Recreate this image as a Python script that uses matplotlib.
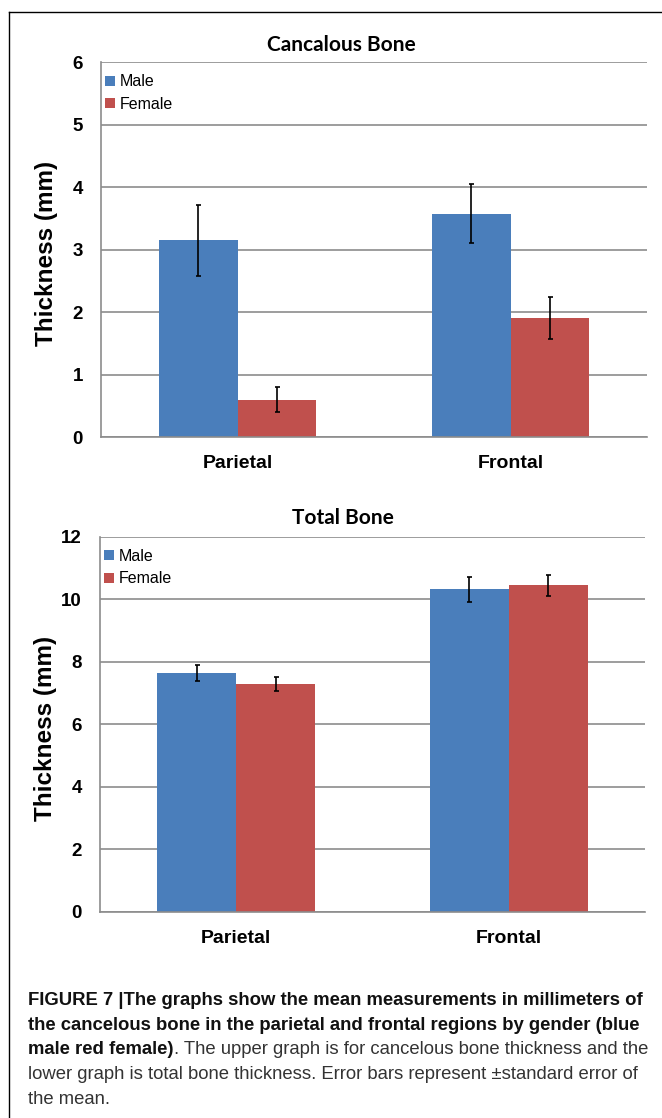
import matplotlib
matplotlib.use("Agg")
import matplotlib.pyplot as plt
from matplotlib import font_manager
from matplotlib.lines import Line2D
import numpy as np

# ---------------- data ----------------
categories = ["Parietal", "Frontal"]
series_names = ["Male", "Female"]
series_colors = ["#4A7EBB", "#C0504D"]

cancellous_male = [3.15, 3.58]
cancellous_female = [0.60, 1.91]
cancellous_male_err = [0.57, 0.47]
cancellous_female_err = [0.20, 0.34]
cancellous_ticks = [0, 1, 2, 3, 4, 5, 6]

total_male = [7.64, 10.32]
total_female = [7.29, 10.44]
total_male_err = [0.26, 0.40]
total_female_err = [0.23, 0.33]
total_ticks = [0, 2, 4, 6, 8, 10, 12]

caption_lines = [
    [("FIGURE 7 |The graphs show the mean measurements in millimeters of", "bold")],
    [("the cancelous bone in the parietal and frontal regions by gender (blue", "bold")],
    [("male red female)", "bold"),
     (". The upper graph is for cancelous bone thickness and the", "normal")],
    [("lower graph is total bone thickness. Error bars represent \u00b1standard error of", "normal")],
    [("the mean.", "normal")],
]

# ---------------- fonts ----------------
available = {f.name for f in font_manager.fontManager.ttflist}
SANS = "Liberation Sans" if "Liberation Sans" in available else "DejaVu Sans"
TITLE = "Lato" if "Lato" in available else SANS
CAP = "Liberation Sans Narrow" if "Liberation Sans Narrow" in available else SANS
plt.rcParams["font.family"] = [SANS, "DejaVu Sans"]

W, H = 662, 1118
fig = plt.figure(figsize=(W / 100, H / 100), dpi=100)
fig.patch.set_facecolor("white")


def axes_px(left, top, right, bottom):
    return fig.add_axes([left / W, 1 - bottom / H, (right - left) / W, (bottom - top) / H])


GRID = "#8c8c8c"


def draw_chart(ax, male, female, merr, ferr, ticks, title, title_x, title_y):
    x = np.arange(len(categories))
    w = 0.289
    ekw = dict(elinewidth=1.2, capthick=1.2, ecolor="black", zorder=4)
    ax.bar(x - w / 2, male, w, color=series_colors[0], yerr=merr, capsize=1.8,
           error_kw=ekw, label=series_names[0], zorder=2)
    ax.bar(x + w / 2, female, w, color=series_colors[1], yerr=ferr, capsize=1.8,
           error_kw=ekw, label=series_names[1], zorder=2)
    ax.set_xlim(-0.5, len(categories) - 0.5)
    ax.set_ylim(0, ticks[-1])
    ax.set_yticks(ticks)
    ax.set_yticklabels([str(t) for t in ticks], fontsize=13.5, fontweight="bold")
    ax.set_xticks(x)
    ax.set_xticklabels(categories, fontsize=14, fontweight="bold")
    ax.tick_params(axis="y", length=0, pad=13)
    ax.tick_params(axis="x", length=0, pad=13)
    ax.yaxis.grid(True, color=GRID, linewidth=1.2, zorder=0)
    ax.set_axisbelow(True)
    for s in ["top", "right"]:
        ax.spines[s].set_visible(False)
    for s in ["left", "bottom"]:
        ax.spines[s].set_color(GRID)
        ax.spines[s].set_linewidth(1.2)
    ax.set_ylabel("Thickness (mm)", fontsize=17.5, fontweight="bold")
    ax.yaxis.set_label_coords(-0.078, 0.49)
    ax.set_title(title, fontsize=15, fontweight="bold", family=TITLE,
                 x=title_x, y=title_y, pad=0)
    ax.legend(loc="upper left", bbox_to_anchor=(0.008, 0.968), frameon=False,
              fontsize=11.5, handlelength=0.6, handleheight=0.6,
              handletextpad=0.3, labelspacing=0.47, borderpad=0, borderaxespad=0)


ax1 = axes_px(101, 62.3, 647, 437.3)
draw_chart(ax1, cancellous_male, cancellous_female, cancellous_male_err,
           cancellous_female_err, cancellous_ticks, "Cancalous Bone", 0.441, 1.030)

ax2 = axes_px(100, 536.7, 645, 911.7)
draw_chart(ax2, total_male, total_female, total_male_err, total_female_err,
           total_ticks, "Total Bone", 0.446, 1.034)

# ---------------- frame ----------------
fig.add_artist(Line2D([9 / W, 9 / W], [1 - 11.5 / H, 0], color="black", lw=1.0))
fig.add_artist(Line2D([9 / W, 1.01], [1 - 11.5 / H, 1 - 11.5 / H], color="black", lw=1.0))

# ---------------- caption ----------------
renderer = fig.canvas.get_renderer()
probe = fig.text(0, 0, caption_lines[0][0][0], fontsize=10, fontweight="bold", family=CAP)
pw = probe.get_window_extent(renderer).width
probe.remove()
cap_size = 10 * 620 / pw

left_px = 28
baselines = [1005, 1029.7, 1054.4, 1079.1, 1103.8]
for segs, base in zip(caption_lines, baselines):
    xpx = left_px
    for txt, weight in segs:
        t = fig.text(xpx / W, 1 - base / H, txt, fontsize=cap_size, fontweight=weight,
                     family=CAP, va="baseline", ha="left",
                     color="#111111" if weight == "bold" else "#333333")
        xpx += t.get_window_extent(renderer).width

fig.savefig("out.png", dpi=100, facecolor="white")
